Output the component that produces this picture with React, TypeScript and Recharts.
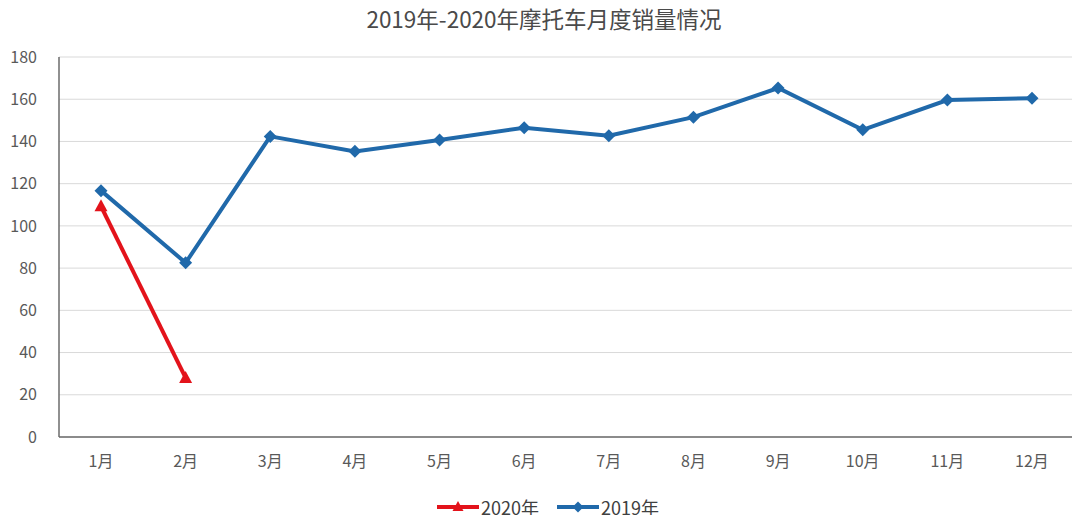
import React from "react";
import { LineChart, Line, XAxis, YAxis, CartesianGrid } from "recharts";

const months = ["1月", "2月", "3月", "4月", "5月", "6月", "7月", "8月", "9月", "10月", "11月", "12月"];
const sales2019 = [116.7, 82.5, 142.4, 135.3, 140.7, 146.5, 142.7, 151.5, 165.3, 145.5, 159.6, 160.5];
const sales2020 = [109.3, 28];
const yTicks = [0, 20, 40, 60, 80, 100, 120, 140, 160, 180];

const BLUE = "#2069aa";
const RED = "#e3131b";
const FONT = "'Noto Sans CJK SC', 'Noto Sans', sans-serif";

const data = months.map((m, i) => ({
    month: m,
    y2019: sales2019[i],
    y2020: i < sales2020.length ? sales2020[i] : null,
}));

const Diamond = (props: any) => {
    const { cx, cy, index } = props;
    if (cx == null || cy == null) return <g key={`d${index}`} />;
    const r = 6.5;
    return (
        <path
            key={`d${index}`}
            d={`M${cx},${cy - r}L${cx + r},${cy}L${cx},${cy + r}L${cx - r},${cy}Z`}
            fill={BLUE}
        />
    );
};

const Triangle = (props: any) => {
    const { cx, cy, index } = props;
    if (cx == null || cy == null) return <g key={`t${index}`} />;
    return (
        <path
            key={`t${index}`}
            d={`M${cx},${cy - 7}L${cx + 6.5},${cy + 5}L${cx - 6.5},${cy + 5}Z`}
            fill={RED}
        />
    );
};

const LegendItem = ({ color, label, marker }: { color: string; label: string; marker: "tri" | "dia" }) => (
    <div style={{ display: "flex", alignItems: "center", marginRight: 18 }}>
        <svg width={42} height={14}>
            <line x1={0} y1={7} x2={42} y2={7} stroke={color} strokeWidth={4} />
            {marker === "tri" ? (
                <path d="M21,1L26.5,11L15.5,11Z" fill={color} />
            ) : (
                <path d="M21,1.5L26.5,7L21,12.5L15.5,7Z" fill={color} />
            )}
        </svg>
        <span style={{ marginLeft: 2 }}>{label}</span>
    </div>
);

export default function App() {
    return (
        <div style={{ margin: -8, position: "relative", width: 1080, height: 523, background: "#fff", fontFamily: FONT }}>
            <div
                style={{
                    position: "absolute",
                    top: 2,
                    left: 0,
                    width: 1080,
                    paddingLeft: 8,
                    boxSizing: "border-box",
                    textAlign: "center",
                    fontSize: 22.5,
                    color: "#4a4a4a",
                }}
            >
                2019年-2020年摩托车月度销量情况
            </div>
            <LineChart
                width={1080}
                height={523}
                data={data}
                margin={{ top: 57, right: 6, left: 0, bottom: 46 }}
            >
                <CartesianGrid vertical={false} stroke="#d9d9d9" strokeWidth={1} />
                <XAxis
                    dataKey="month"
                    tickLine={false}
                    axisLine={{ stroke: "#6b6b6b", strokeWidth: 1.5 }}
                    tick={{ fill: "#595959", fontSize: 16, fontFamily: FONT }}
                    tickMargin={13}
                    padding={{ left: 42, right: 42 }}
                    height={40}
                />
                <YAxis
                    domain={[0, 180]}
                    ticks={yTicks}
                    interval={0}
                    tickLine={false}
                    axisLine={{ stroke: "#6b6b6b", strokeWidth: 1.5 }}
                    tick={{ fill: "#595959", fontSize: 16, fontFamily: FONT }}
                    tickMargin={16}
                    width={59}
                />
                <Line
                    dataKey="y2020"
                    stroke={RED}
                    strokeWidth={4}
                    dot={Triangle}
                    activeDot={false}
                    isAnimationActive={false}
                    connectNulls={false}
                />
                <Line
                    dataKey="y2019"
                    stroke={BLUE}
                    strokeWidth={4}
                    dot={Diamond}
                    activeDot={false}
                    isAnimationActive={false}
                />
            </LineChart>
            <div
                style={{
                    position: "absolute",
                    top: 494,
                    left: 0,
                    width: 1080,
                    display: "flex",
                    justifyContent: "center",
                    fontSize: 18,
                    color: "#404040",
                    paddingLeft: 34,
                    boxSizing: "border-box",
                }}
            >
                <LegendItem color={RED} label="2020年" marker="tri" />
                <LegendItem color={BLUE} label="2019年" marker="dia" />
            </div>
        </div>
    );
}
